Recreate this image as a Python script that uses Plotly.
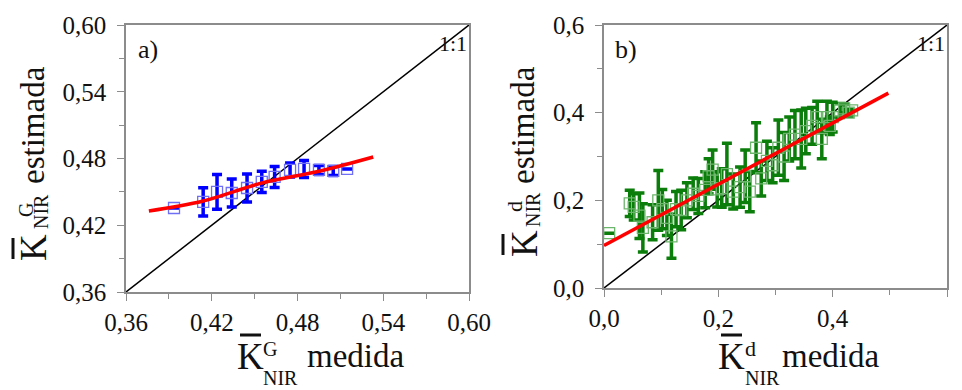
import plotly.graph_objects as go

W, H = 962, 390

# ---------------- Panel a data ----------------
a_x = [0.3936, 0.414, 0.4237, 0.434, 0.4447, 0.455, 0.464, 0.4748, 0.4846, 0.495, 0.505, 0.5147]
a_y = [0.4355, 0.441, 0.450, 0.449, 0.4535, 0.459, 0.4634, 0.4697, 0.4706, 0.4697, 0.4688, 0.4706]
a_err = [0.0, 0.0126, 0.0157, 0.0126, 0.0126, 0.0095, 0.0095, 0.0063, 0.0076, 0.004, 0.004, 0.0]
a_fit_x = [0.376, 0.414, 0.455, 0.496, 0.533]
a_fit_y = [0.4328, 0.4418, 0.458, 0.4688, 0.4813]
a_ticks = [0.36, 0.42, 0.48, 0.54, 0.60]
a_ticktext = ["0,36", "0,42", "0,48", "0,54", "0,60"]
a_minor = [0.39, 0.45, 0.51, 0.57]

# ---------------- Panel b data ----------------
b_x = [0.009, 0.045, 0.052, 0.062, 0.068, 0.085, 0.095, 0.102, 0.110, 0.118,
       0.126, 0.135, 0.145, 0.156, 0.165, 0.177, 0.183, 0.190, 0.198, 0.206,
       0.215, 0.226, 0.238, 0.247, 0.255, 0.266, 0.275, 0.285, 0.295, 0.305,
       0.315, 0.324, 0.334, 0.345, 0.353, 0.364, 0.373, 0.381, 0.390, 0.395,
       0.400, 0.413, 0.420, 0.428, 0.434]
b_y = [0.125, 0.193, 0.185, 0.165, 0.137, 0.150, 0.200, 0.180, 0.160, 0.118,
       0.180, 0.178, 0.200, 0.215, 0.210, 0.224, 0.255, 0.270, 0.225, 0.228,
       0.260, 0.220, 0.230, 0.255, 0.220, 0.320, 0.250, 0.290, 0.280, 0.320,
       0.300, 0.340, 0.350, 0.340, 0.358, 0.370, 0.390, 0.340, 0.390, 0.370,
       0.390, 0.405, 0.410, 0.400, 0.405]
b_err = [0.0, 0.030, 0.030, 0.052, 0.055, 0.040, 0.068, 0.045, 0.040, 0.050,
         0.040, 0.045, 0.040, 0.036, 0.040, 0.041, 0.040, 0.045, 0.040, 0.044,
         0.070, 0.040, 0.046, 0.060, 0.046, 0.057, 0.040, 0.045, 0.040, 0.063,
         0.055, 0.050, 0.055, 0.066, 0.052, 0.042, 0.036, 0.045, 0.036, 0.020,
         0.034, 0.016, 0.010, 0.008, 0.0]
b_fit_x = [0.0, 0.4975]
b_fit_y = [0.097, 0.4445]
b_ticks = [0.0, 0.2, 0.4, 0.6]
b_ticktext = ["0,0", "0,2", "0,4", "0,6"]
b_minor = [0.1, 0.3, 0.5]

FONT = "Liberation Serif, Times New Roman, serif"
AXC = "#8c8c8c"
TXT = "#111111"

fig = go.Figure()

# 1:1 lines
fig.add_trace(go.Scatter(x=[a_ticks[0], a_ticks[-1]], y=[a_ticks[0], a_ticks[-1]], mode="lines",
                         line=dict(color="black", width=1.5), xaxis="x", yaxis="y", showlegend=False))
fig.add_trace(go.Scatter(x=[b_ticks[0], b_ticks[-1]], y=[b_ticks[0], b_ticks[-1]], mode="lines",
                         line=dict(color="black", width=1.5), xaxis="x2", yaxis="y2", showlegend=False))

# data
fig.add_trace(go.Scatter(x=a_x, y=a_y, mode="markers",
                         marker=dict(symbol="square-open", size=11, color="#6f6ff5", line=dict(width=1.3)),
                         error_y=dict(type="data", array=a_err, color="#0000ff", thickness=3.5, width=5),
                         xaxis="x", yaxis="y", showlegend=False))
fig.add_trace(go.Scatter(x=b_x, y=b_y, mode="markers",
                         marker=dict(symbol="square-open", size=11, color="#6cb56c", line=dict(width=1.3)),
                         error_y=dict(type="data", array=b_err, color="#0a7d0a", thickness=3.5, width=5),
                         xaxis="x2", yaxis="y2", showlegend=False))

# fits
fig.add_trace(go.Scatter(x=a_fit_x, y=a_fit_y, mode="lines", line=dict(color="#ff0000", width=3.5, shape="spline"),
                         xaxis="x", yaxis="y", showlegend=False))
fig.add_trace(go.Scatter(x=b_fit_x, y=b_fit_y, mode="lines", line=dict(color="#ff0000", width=3.5),
                         xaxis="x2", yaxis="y2", showlegend=False))

def px(v):
    return v / W

def py(v):
    return 1 - v / H

def axis(domain, ticks, text, minor, rng):
    return dict(domain=domain, range=rng, tickmode="array", tickvals=ticks, ticktext=text,
                ticks="outside", ticklen=7, tickwidth=1.3, tickcolor=AXC,
                showline=True, linecolor=AXC, linewidth=1.5, mirror=True,
                showgrid=False, zeroline=False, automargin=False,
                tickfont=dict(family=FONT, size=25, color=TXT),
                minor=dict(tickvals=minor, ticks="outside", ticklen=5, tickwidth=1.3, tickcolor=AXC))

xa = axis([px(126), px(469)], a_ticks, a_ticktext, a_minor, [0.36, 0.60])
ya = axis([py(292), py(25)], a_ticks, a_ticktext, a_minor, [0.36, 0.60])
xb = axis([px(604), px(947)], b_ticks, b_ticktext, b_minor, [0.0, 0.6])
yb = axis([py(288), py(25)], b_ticks, b_ticktext, b_minor, [0.0, 0.6])
xa["anchor"] = "y"; ya["anchor"] = "x"
xb["anchor"] = "y2"; yb["anchor"] = "x2"
ya["ticklabelstandoff"] = 6
yb["ticklabelstandoff"] = 6

annots = []
shapes = []

def ann(text, x, y, size, angle=0):
    annots.append(dict(text=text, x=px(x), y=py(y), xref="paper", yref="paper",
                       xanchor="center", yanchor="middle", showarrow=False, textangle=angle,
                       font=dict(family=FONT, size=size, color=TXT)))

def bar(x0, y0, x1, y1):
    shapes.append(dict(type="line", xref="paper", yref="paper", x0=px(x0), y0=py(y0), x1=px(x1), y1=py(y1),
                       line=dict(color=TXT, width=3)))

# panel a x title
ann("K", 250, 356, 37)
bar(240, 335, 261, 335)
ann("G", 270, 349, 20)
ann("NIR", 280, 378, 20)
ann("medida", 355, 356, 33)
# panel b x title
ann("K", 731, 356, 37)
bar(721, 335, 742, 335)
ann("d", 750, 348, 22)
ann("NIR", 762, 378, 20)
ann("medida", 830, 356, 33)
# panel a y title
ann("K", 34, 248, 37, -90)
bar(13, 238, 13, 259)
ann("G", 26, 210, 20, -90)
ann("NIR", 41, 212, 20, -90)
ann("estimada", 33, 125, 33, -90)
# panel b y title
ann("K", 524, 244, 37, -90)
bar(503, 234, 503, 255)
ann("d", 514, 207, 22, -90)
ann("NIR", 533, 210, 20, -90)
ann("estimada", 523, 125, 33, -90)
# panel labels
ann("a)", 148, 50, 26)
ann("b)", 626, 50, 26)
ann("1:1", 453, 43, 22)
ann("1:1", 931, 43, 22)

fig.update_layout(width=W, height=H, margin=dict(l=0, r=0, t=0, b=0),
                  paper_bgcolor="white", plot_bgcolor="white",
                  xaxis=xa, yaxis=ya, xaxis2=xb, yaxis2=yb,
                  annotations=annots, shapes=shapes, showlegend=False)

fig.write_html("out.html", config={"displayModeBar": False},
               post_script="document.body.style.margin='0px';document.body.style.overflow='hidden';")
